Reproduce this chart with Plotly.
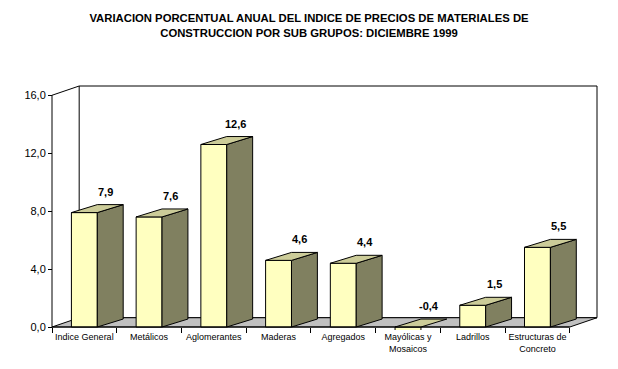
import plotly.graph_objects as go

# ---- data ----
categories = ["Indice General", "Metálicos", "Aglomerantes", "Maderas", "Agregados",
              "Mayólicas y<br>Mosaicos", "Ladrillos", "Estructuras de<br>Concreto"]
values = [7.9, 7.6, 12.6, 4.6, 4.4, -0.4, 1.5, 5.5]
y_ticks = [0, 4, 8, 12, 16]
y_max = 16
title_text = ("VARIACION PORCENTUAL ANUAL DEL INDICE DE PRECIOS DE MATERIALES DE<br>"
              "CONSTRUCCION POR SUB GRUPOS: DICIEMBRE 1999")

# ---- style / geometry ----
W, H = 618, 369
OFF = 8                           # default page (body) margin of the html page
PX_X, PX_Y = 64.75, 14.5          # pixels per category / per unit
X0_PIX, Y0_PIX = 52, 327          # screen pixel of (x=-0.5, y=0)
WALL_DX, WALL_DY = 0.42, 0.64     # 3D depth of walls (data units)
BAR_W, BAR_DX, BAR_DY = 0.40, 0.40, 0.55
PAD = 3
FRONT = "#FFFFC0"
SIDE = "#808060"
TOP = "#CCCC99"
FLOOR = "#C0C0C0"
FONT = "Liberation Sans, Arial, sans-serif"

n = len(categories)
xl, xr = -0.5, n - 0.5
x_range = [xl - PAD / PX_X, xr + WALL_DX + PAD / PX_X]
y_range = [-PAD / PX_Y, y_max + WALL_DY + PAD / PX_Y]
plot_w = (x_range[1] - x_range[0]) * PX_X
plot_h = (y_range[1] - y_range[0]) * PX_Y
m_l = X0_PIX - PAD - OFF
m_t = Y0_PIX + PAD - plot_h - OFF
m_b = H - m_t - plot_h
m_r = W - m_l - plot_w

fig = go.Figure()

# back wall, floor (shapes below traces)
shapes = []
shapes.append(dict(type="rect", x0=xl + WALL_DX, x1=xr + WALL_DX, y0=WALL_DY, y1=y_max + WALL_DY,
                   line=dict(color="black", width=1), fillcolor="white", layer="below"))
floor_path = f"M {xl},0 L {xr},0 L {xr + WALL_DX},{WALL_DY} L {xl + WALL_DX},{WALL_DY} Z"
shapes.append(dict(type="path", path=floor_path, fillcolor=FLOOR,
                   line=dict(color="black", width=1), layer="below"))
# front vertical axis, top diagonal of left wall, front floor edge
shapes.append(dict(type="line", x0=xl, x1=xl, y0=0, y1=y_max, line=dict(color="black", width=1)))
shapes.append(dict(type="line", x0=xl, x1=xl + WALL_DX, y0=y_max, y1=y_max + WALL_DY,
                   line=dict(color="black", width=1)))
shapes.append(dict(type="line", x0=xl, x1=xr, y0=0, y1=0, line=dict(color="black", width=1)))

# front faces
xs = list(range(n))
fig.add_trace(go.Bar(x=xs, y=values, width=BAR_W,
                     marker=dict(color=FRONT, line=dict(color="black", width=1)),
                     hoverinfo="skip", showlegend=False, cliponaxis=True))

# side and top faces
for i, v in enumerate(values):
    top = max(v, 0)
    bot = min(v, 0)
    xa, xb = i - BAR_W / 2, i + BAR_W / 2
    if v > 0:
        fig.add_trace(go.Scatter(
            x=[xb, xb + BAR_DX, xb + BAR_DX, xb, xb],
            y=[bot, bot + BAR_DY, top + BAR_DY, top, bot],
            fill="toself", fillcolor=SIDE, mode="lines", line=dict(color="black", width=1),
            hoverinfo="skip", showlegend=False))
    fig.add_trace(go.Scatter(
        x=[xa, xb, xb + BAR_DX, xa + BAR_DX, xa],
        y=[top, top, top + BAR_DY, top + BAR_DY, top],
        fill="toself", fillcolor=TOP, mode="lines", line=dict(color="black", width=1),
        hoverinfo="skip", showlegend=False))

# data labels
annotations = []
for i, v in enumerate(values):
    annotations.append(dict(x=i + 0.33, y=max(v, 0) + 1.45, text=f"<b>{v:.1f}</b>".replace(".", ","),
                            showarrow=False, xanchor="center", yanchor="middle",
                            font=dict(family=FONT, size=11, color="black")))

fig.update_layout(
    width=W, height=H,
    margin=dict(l=m_l, r=m_r, t=m_t, b=m_b, pad=0),
    paper_bgcolor="white", plot_bgcolor="white",
    separators=",.",
    showlegend=False,
    title=dict(text=f"<b>{title_text}</b>", x=(309 - OFF) / W, xref="container", xanchor="center",
               y=1 - (22 - OFF) / H, yref="container", yanchor="middle",
               font=dict(family=FONT, size=11.3, color="black")),
    xaxis=dict(range=x_range, tickmode="array", tickvals=xs, ticktext=categories, ticks="",
               showgrid=False, zeroline=False, showline=False,
               anchor="free", position=PAD / plot_h, ticklabelstandoff=3,
               tickfont=dict(family=FONT, size=9, color="black"),
               minor=dict(tickvals=[i - 0.5 for i in range(n + 1)], ticks="outside", ticklen=5,
                          tickcolor="black", tickwidth=1, showgrid=False)),
    yaxis=dict(range=y_range, tickmode="array", tickvals=y_ticks, tickformat=".1f", ticks="outside",
               ticklen=4, tickcolor="black", showgrid=False, zeroline=False, showline=False,
               anchor="free", position=PAD / plot_w,
               tickfont=dict(family=FONT, size=11, color="black")),
    shapes=shapes,
    annotations=annotations,
)

fig.write_html("out.html")
